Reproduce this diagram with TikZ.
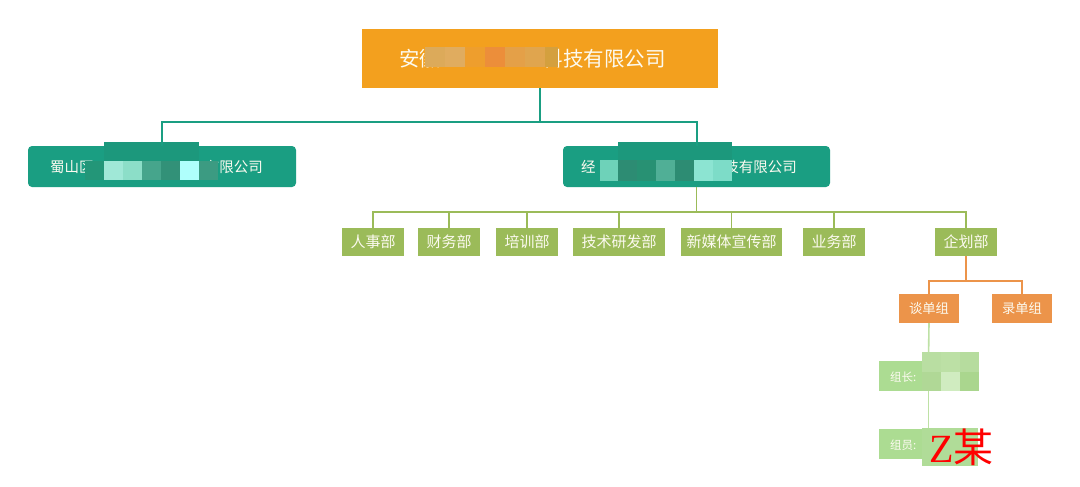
\documentclass[tikz,border=0pt]{standalone}
\usepackage{fontspec}
\setmainfont{Noto Sans CJK SC}
\newfontfamily\zfont{Liberation Serif}
\newfontfamily\cjk{Noto Sans CJK SC}
\definecolor{topor}{RGB}{243,160,30}
\definecolor{tealc}{RGB}{26,158,130}
\definecolor{deptg}{RGB}{155,187,89}
\definecolor{grpor}{RGB}{236,148,74}
\definecolor{ltg}{RGB}{172,220,146}
\definecolor{ltline}{RGB}{190,225,165}
\definecolor{txtw}{RGB}{252,250,240}
\tikzset{
  topbox/.style={fill=topor, minimum width=356pt, minimum height=59pt, inner sep=0pt},
  tealbox/.style={fill=tealc, rounded corners=4pt, minimum width=268pt, minimum height=41pt, inner sep=0pt},
  dept/.style={fill=deptg, text=txtw, minimum height=28pt, inner sep=0pt, font=\fontsize{15}{15}\selectfont},
  grp/.style={fill=grpor, text=txtw, minimum width=60pt, minimum height=29pt, inner sep=0pt, font=\fontsize{13.3}{13.3}\selectfont},
  mem/.style={fill=ltg, minimum width=99pt, minimum height=30pt, inner sep=0pt},
  memtxt/.style={text=txtw, inner sep=0pt, anchor=west, font=\fontsize{11.5}{11.5}\selectfont},
  btxt/.style={text=txtw, inner sep=0pt, font=\fontsize{14.5}{14.5}\selectfont},
  ttxt/.style={text=txtw, inner sep=0pt, font=\fontsize{20.5}{20.5}\selectfont},
  tline/.style={draw=tealc, line width=2pt},
  gline/.style={draw=deptg, line width=1.6pt},
  oline/.style={draw=grpor, line width=2pt},
  lline/.style={draw=ltline, line width=1.6pt}
}
\begin{document}
\begin{tikzpicture}[x=1pt,y=-1pt]
\useasboundingbox[fill=white] (0,0) rectangle (1080,487);
% top
\node[topbox] (top) at (540,58.5) {};
\node[ttxt, anchor=west] (toptxtA) at (399,59) {安徽};
\node[ttxt, anchor=east] (toptxtB) at (666,59) {科技有限公司};
% mosaic top
\foreach \x/\c/\w in {425/{220,170,90}/20,445/{224,172,95}/20,465/{238,158,45}/20,485/{236,142,58}/20,505/{228,160,72}/20,525/{224,165,78}/20,545/{212,160,62}/13}{
  \definecolor{mc}{RGB}{\c}
  \fill[mc] (\x,47) rectangle ++(\w,20.5);
}
% second level
\node[tealbox] (shu) at (162,166.5) {};
\node[tealbox, minimum width=267pt] (jing) at (696.5,166.5) {};
\node[btxt, anchor=west] (shuA) at (50,167) {蜀山区};
\node[btxt, anchor=east] (shuB) at (263,167) {有限公司};
\node[btxt, anchor=west] (jingA) at (581,167) {经};
\node[btxt, anchor=east] (jingB) at (797,167) {技有限公司};
% mosaics second level
\definecolor{mdark}{RGB}{28,152,124}
\fill[mdark] (104,142) rectangle (199,161);
\foreach \x/\c in {85/{35,150,120},104/{160,232,215},123/{140,222,200},142/{70,165,140},161/{50,145,120},180/{175,255,252},199/{60,155,130}}{
  \definecolor{mc}{RGB}{\c}
  \fill[mc] (\x,161) rectangle ++(19.3,19);
}
\fill[mdark] (618,142) rectangle (732,160);
\foreach \x/\c in {600/{110,210,185},618/{45,140,115},637/{40,145,115},656/{80,175,150},675/{45,140,115},694/{140,228,210},713/{125,220,200}}{
  \definecolor{mc}{RGB}{\c}
  \fill[mc] (\x,160) rectangle ++(19.1,21);
}
% connectors top
\coordinate (tj) at (540,122);
\draw[tline] (top.south) -- (tj) -| (shu.north);
\draw[tline] (tj) -| (jing.north);
% departments
\node[dept, minimum width=62pt] (d1) at (373,242) {人事部};
\node[dept, minimum width=62pt] (d2) at (449,242) {财务部};
\node[dept, minimum width=62pt] (d3) at (527,242) {培训部};
\node[dept, minimum width=92pt] (d4) at (619,242) {技术研发部};
\node[dept, minimum width=101pt] (d5) at (731.5,242) {新媒体宣传部};
\node[dept, minimum width=62pt] (d6) at (834,242) {业务部};
\node[dept, minimum width=62pt] (d7) at (966,242) {企划部};
\coordinate (dj) at (696.5,212);
\draw[gline] (jing.south) -- (dj);
\draw[gline] (d1.north) |- (dj) -| (d7.north);
\foreach \d in {d2,d3,d4,d5,d6}{ \draw[gline] (\d.north) -- (\d.north |- dj); }
% groups
\node[grp] (g1) at (929,308.5) {谈单组};
\node[grp] (g2) at (1022,308.5) {录单组};
\coordinate (gj) at (966,281);
\draw[oline] (d7.south) -- (gj);
\draw[oline] (g1.north) |- (gj) -| (g2.north);
% members
\node[mem] (m1) at (928.5,376) {};
\node[mem] (m2) at (928.5,444) {};
\draw[lline] (g1.south) -- (m1.north);
\draw[lline] (m1.south) -- (m2.north);
\node[memtxt] (m1t) at (890,377) {组长:};
\node[memtxt] (m2t) at (890,445) {组员:};
\foreach \x/\c in {922/{185,222,162},941/{188,224,165},960/{182,220,158}}{
  \definecolor{mc}{RGB}{\c}
  \fill[mc] (\x,352) rectangle ++(18.7,19.5);
}
\foreach \x/\c in {922/{176,216,150},941/{208,236,192},960/{170,214,142}}{
  \definecolor{mc}{RGB}{\c}
  \fill[mc] (\x,371.5) rectangle ++(18.7,19.5);
}
\definecolor{mc}{RGB}{176,220,152}
\fill[mc] (922,428) rectangle (978,466);
\node[text=red, inner sep=0pt, anchor=west] (zname) at (929,447) {\fontsize{40}{40}\selectfont\zfont Z\cjk 某};
\end{tikzpicture}
\end{document}
